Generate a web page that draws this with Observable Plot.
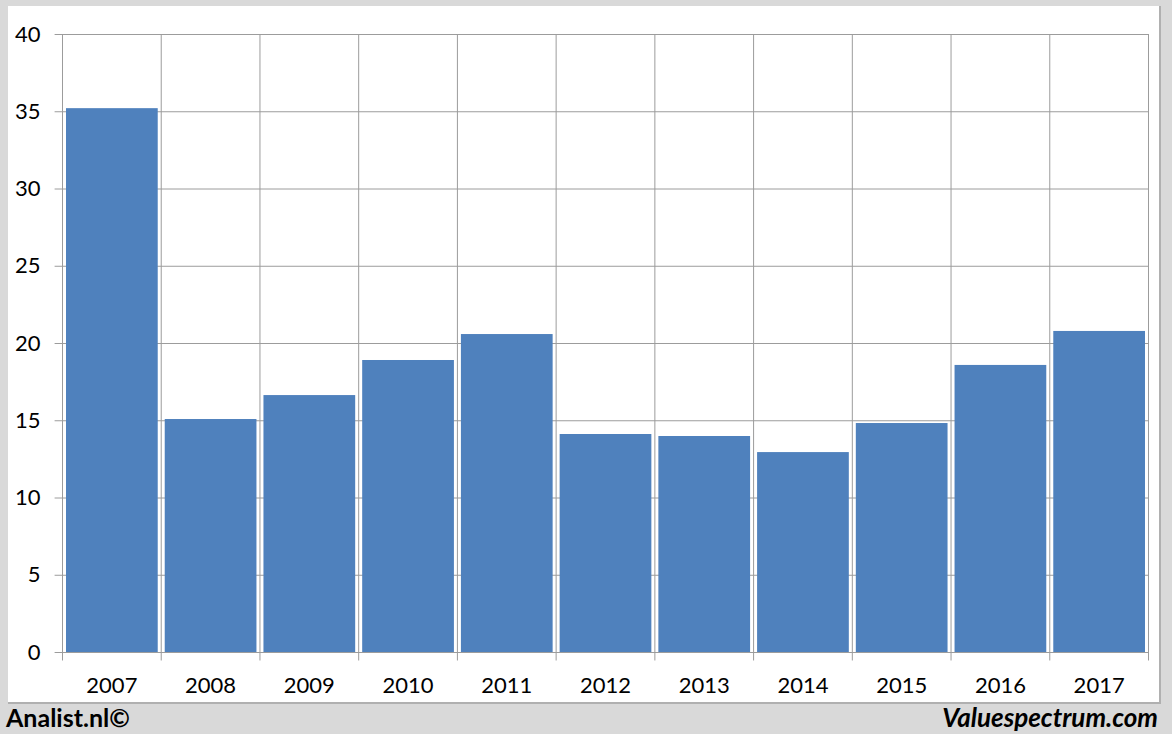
<!DOCTYPE html>
<html>
<head>
<meta charset="utf-8">
<script src="https://cdn.jsdelivr.net/npm/d3@7"></script>
<script src="https://cdn.jsdelivr.net/npm/@observablehq/plot@0.6"></script>
<style>
  html, body { margin: 0; padding: 0; }
  body { width: 1172px; height: 734px; background: #d9d9d9; position: relative; overflow: hidden; font-family: Lato, "Open Sans", sans-serif; }
  #panel { position: absolute; left: 8px; top: 6px; width: 1151px; height: 696px; background: #fff; border-right: 2px solid #b0b0b0; border-bottom: 2px solid #b0b0b0; }
  #chart { position: absolute; left: 0; top: 0; }
  .foot { position: absolute; top: 701px; font-size: 25px; line-height: 32px; font-weight: bold; color: #000; }
  #left { left: 6px; }
  #right { right: 14px; font-style: italic; font-size: 26px; }
</style>
</head>
<body>
<div id="panel"></div>
<div id="chart"></div>
<div class="foot" id="left">Analist.nl©</div>
<div class="foot" id="right">Valuespectrum.com</div>
<script>
const years = ["2007","2008","2009","2010","2011","2012","2013","2014","2015","2016","2017"];
const values = [35.2, 15.08, 16.63, 18.9, 20.58, 14.11, 13.98, 12.94, 14.82, 18.58, 20.78];
const yTicks = [0, 5, 10, 15, 20, 25, 30, 35, 40];

const data = years.map((year, i) => ({year, i, value: values[i]}));
const bounds = d3.range(years.length + 1);

const chart = Plot.plot({
  width: 1172,
  height: 703,
  marginLeft: 62,
  marginRight: 24,
  marginTop: 34,
  marginBottom: 51,
  style: {background: "transparent", fontFamily: "Lato, 'Open Sans', sans-serif", fontSize: "22px", color: "#000"},
  x: {type: "linear", domain: [0, years.length], axis: null},
  y: {domain: [0, 40], axis: null},
  marks: [
    Plot.ruleY(yTicks, {stroke: "#9c9c9c", strokeWidth: 1}),
    Plot.ruleY(yTicks, {x1: -0.075, x2: 0, stroke: "#9c9c9c", strokeWidth: 1}),
    Plot.ruleX(bounds, {y1: -0.55, y2: 40, stroke: "#9c9c9c", strokeWidth: 1}),
    Plot.rectY(data, {x1: "i", x2: d => d.i + 1, y: "value", fill: "#4f81bd", insetLeft: 4, insetRight: 3}),
    Plot.text(yTicks, {x: 0, y: d => d, text: d => String(d), textAnchor: "end", dx: -22, fill: "#000", fontSize: 22}),
    Plot.text(data, {x: d => d.i + 0.5, y: 0, text: "year", dy: 33, fill: "#000", fontSize: 22})
  ]
});
document.getElementById("chart").appendChild(chart);
</script>
</body>
</html>
